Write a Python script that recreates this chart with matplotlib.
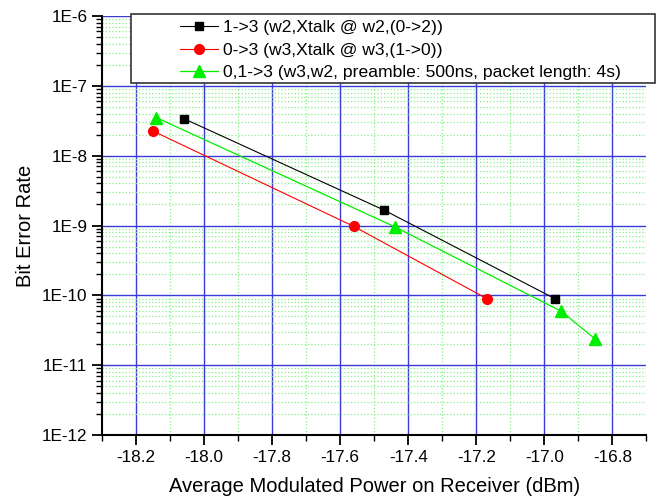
import matplotlib.pyplot as plt
from matplotlib.patches import Rectangle
from matplotlib.ticker import LogLocator, MultipleLocator, NullFormatter, FixedLocator, FixedFormatter

plt.rcParams['font.family'] = ['Liberation Sans', 'DejaVu Sans']

# --- Data ---
x_black = [-18.06, -17.47, -16.97]
ber_black = [3.4e-8, 1.65e-9, 9.0e-11]

x_red = [-18.15, -17.56, -17.17]
ber_red = [2.25e-8, 9.7e-10, 9.0e-11]

x_green = [-18.14, -17.44, -16.95, -16.85]
ber_green = [3.5e-8, 9.6e-10, 5.9e-11, 2.35e-11]

labels = ["1->3 (w2,Xtalk @ w2,(0->2))",
          "0->3 (w3,Xtalk @ w3,(1->0))",
          "0,1->3 (w3,w2, preamble: 500ns, packet length: 4s)"]

x_ticks = [-18.2, -18.0, -17.8, -17.6, -17.4, -17.2, -17.0, -16.8]
y_ticks = [1e-12, 1e-11, 1e-10, 1e-9, 1e-8, 1e-7, 1e-6]
y_ticklabels = ["1E-12", "1E-11", "1E-10", "1E-9", "1E-8", "1E-7", "1E-6"]

# --- Plot ---
fig = plt.figure(figsize=(6.56, 5.0), dpi=100)
ax = fig.add_axes([0.1555, 0.13, 0.83, 0.838])

ax.plot(x_black, ber_black, color='black', lw=0.8, marker='s', ms=6, label=labels[0], zorder=5)
ax.plot(x_red, ber_red, color='red', lw=0.8, marker='o', ms=7, label=labels[1], zorder=5)
ax.plot(x_green, ber_green, color='#00ee00', lw=0.9, marker='^', ms=8, label=labels[2], zorder=5)

ax.set_yscale('log')
ax.set_xlim(-18.3, -16.7)
ax.set_ylim(1e-12, 1e-6)

ax.xaxis.set_major_locator(FixedLocator(x_ticks))
ax.set_xticklabels([f"{v:.1f}" for v in x_ticks])
ax.xaxis.set_minor_locator(MultipleLocator(0.1))
ax.yaxis.set_major_locator(FixedLocator(y_ticks))
ax.yaxis.set_major_formatter(FixedFormatter(y_ticklabels))
ax.yaxis.set_minor_locator(LogLocator(base=10, subs=range(2, 10), numticks=20))
ax.yaxis.set_minor_formatter(NullFormatter())

ax.grid(which='minor', color='#88ee88', ls=':', lw=0.9)
ax.grid(which='major', color='#3a3ad8', ls='-', lw=1.0)
ax.set_axisbelow(True)

for s in ['top', 'right']:
    ax.spines[s].set_visible(False)
for s in ['left', 'bottom']:
    ax.spines[s].set_linewidth(1.5)

ax.tick_params(which='major', direction='out', length=7, width=1.3, labelsize=12.3)
ax.tick_params(which='minor', direction='out', length=4, width=1.0)

ax.set_xlabel("Average Modulated Power on Receiver (dBm)", fontsize=14.5, labelpad=9)
ax.set_ylabel("Bit Error Rate", fontsize=14.5, labelpad=5)

# legend box drawn by hand so the padding matches
box = Rectangle((0.1997, 0.834), 0.7988, 0.138, transform=fig.transFigure,
                facecolor='white', edgecolor='#333333', lw=1.2, zorder=10)
fig.patches.append(box)

handles, lbls = ax.get_legend_handles_labels()
leg = fig.legend(handles, lbls, loc='center left', bbox_to_anchor=(0.2744, 0.9),
                 fontsize=12.6, frameon=False, borderpad=0, borderaxespad=0,
                 handlelength=2.17, labelspacing=0.42, handletextpad=0.3)
leg.set_zorder(11)

plt.savefig("out.png", dpi=100)
